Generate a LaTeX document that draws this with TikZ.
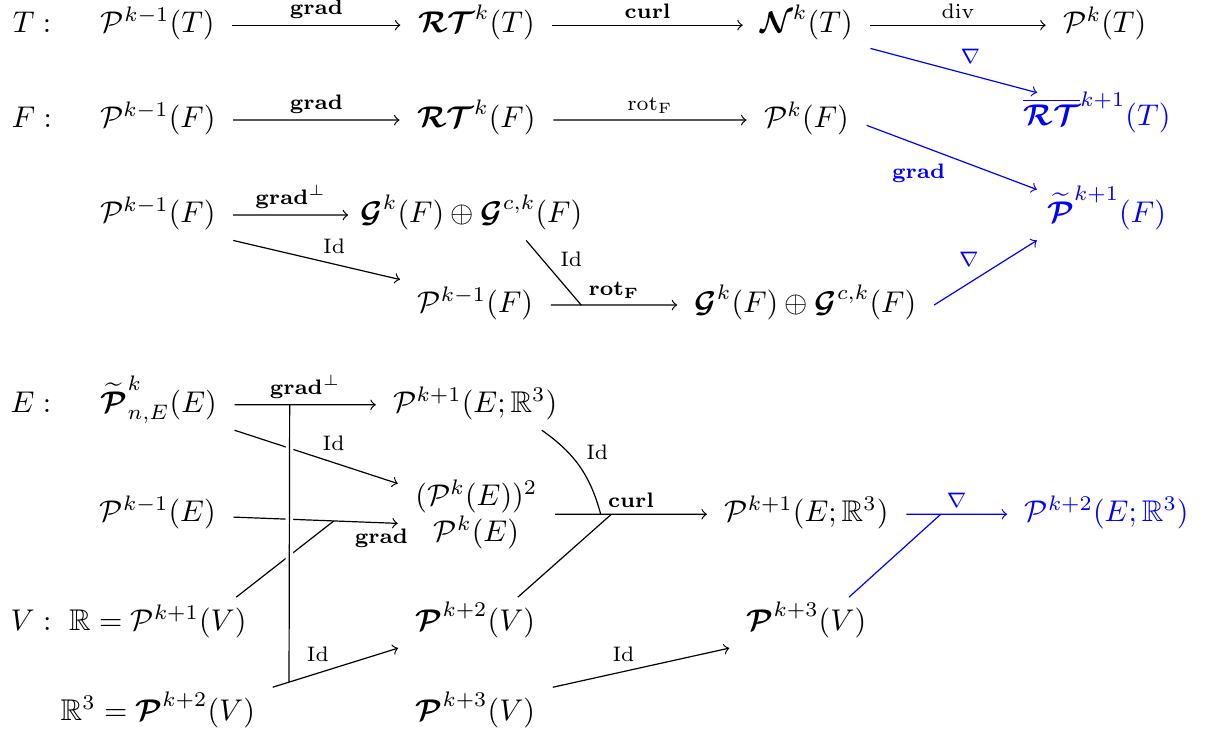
\documentclass[tikz,border=0pt]{standalone}
\usepackage{amsmath,amssymb,bm}
\usetikzlibrary{arrows}
\newcommand{\cP}{\mathcal{P}}
\newcommand{\bP}{\bm{\mathcal{P}}}
\newcommand{\bG}{\bm{\mathcal{G}}}
\newcommand{\bN}{\bm{\mathcal{N}}}
\newcommand{\RT}{\bm{\mathcal{R}\mathcal{T}}}
\tikzstyle{space}=[inner xsep=5.7pt,inner ysep=2.8pt,text height=8pt,text depth=3pt]
\tikzstyle{map} = [draw,->]
\tikzstyle{tie} = [draw]
\tikzstyle{lab} = [font=\scriptsize,inner sep=2pt]
\tikzstyle{over} = [preaction={draw=white,line width=2.5pt,shorten <=3pt,shorten >=3pt}]

\begin{document}
\begin{tikzpicture}[scale=1.136]
	\useasboundingbox (0,0) rectangle (12.57,-7.62);
	% First the names of the cells
	\foreach \pos/\name/\txt in {{(0.33,-0.26)/lT/T}, {(0.33,-1.24)/lF/F}, {(0.32,-4.18)/lE/E}, {(0.32,-6.43)/lV/V}}
	\node[space] (\name) at \pos {$\txt:$};

	% Then the spaces
	\foreach \pos/\name/\txt in {{(1.63,-0.26)/PTa/\cP^{k-1}(T)}, {(4.92,-0.26)/RTT/\RT^k(T)}, {(8.33,-0.26)/NT/\bN^k(T)}, {(11.41,-0.26)/PT/\cP^k(T)},
		{(1.63,-1.24)/PFa/\cP^{k-1}(F)}, {(4.92,-1.24)/RTF/\RT^k(F)}, {(8.33,-1.24)/PF/\cP^k(F)},
		{(1.63,-2.22)/PFb/\cP^{k-1}(F)}, {(4.87,-2.22)/GGa/\bG^k(F)\oplus\bG^{c,k}(F)},
		{(4.91,-3.15)/PFc/\cP^{k-1}(F)}, {(8.32,-3.15)/GGb/\bG^k(F)\oplus\bG^{c,k}(F)},
		{(1.64,-4.18)/PtE/\widetilde{\bP}^k_{n,E}(E)}, {(4.91,-4.18)/PEa/\cP^{k+1}(E;\mathbb{R}^3)},
		{(1.63,-5.31)/PEm/\cP^{k-1}(E)}, {(8.33,-5.31)/PEb/\cP^{k+1}(E;\mathbb{R}^3)},
		{(1.63,-6.43)/RV/\mathbb{R}=\cP^{k+1}(V)}, {(4.91,-6.43)/PVa/\bP^{k+2}(V)}, {(8.33,-6.43)/PVb/\bP^{k+3}(V)},
		{(1.63,-7.36)/RRV/\mathbb{R}^3=\bP^{k+2}(V)}, {(4.91,-7.36)/PVc/\bP^{k+3}(V)}}
	\node[space] (\name) at \pos {$\txt$};
	\node[space,blue] (RTbar) at (11.33,-1.22) {$\overline{\RT}^{k+1}(T)$};
	\node[space,blue] (PtF) at (11.43,-2.22) {$\widetilde{\bP}^{k+1}(F)$};
	\node[space,blue] (PEc) at (11.43,-5.31) {$\cP^{k+2}(E;\mathbb{R}^3)$};
	\node[align=center,inner xsep=5.7pt,inner ysep=0pt] (PkE) at (4.92,-5.31) {$(\cP^k(E))^2$\\$\cP^k(E)$};

	% Arrows along the rows
	\foreach \source/\dest/\weight in {PTa/RTT/\mathbf{grad}, RTT/NT/\mathbf{curl}, NT/PT/\mathrm{div}, PFa/RTF/\mathbf{grad}, RTF/PF/\mathrm{rot}_{\mathrm{F}}}
	\path[map] (\source) -- node[lab,above] {$\weight$} (\dest);
	\path[map] (PFb) -- node[lab,above] {$\mathbf{grad}^\perp$} ([xshift=1.5pt]GGa.west);

	% Arrows that other lines run into
	\path[map] (PFc) -- coordinate[pos=0.24] (rotin) node[lab,above] {$\mathbf{rot}_{\mathbf{F}}$} (GGb);
	\path[map] (PtE) -- coordinate[pos=0.39] (vtop) node[lab,above] {$\mathbf{grad}^\perp$} (PEa);
	\path[map] (PEm) -- coordinate[pos=0.61] (gradin) node[lab,below,pos=0.9] {$\mathbf{grad}$} ([yshift=-2.7pt]PkE.west);
	\path[map] (PkE) -- coordinate[pos=0.30] (curlin) coordinate[pos=0.37] (curlinb) node[lab,above] {$\mathbf{curl}$} (PEb);
	\path[map,blue] (PEb) -- coordinate[pos=0.34] (nablain) node[lab,above] {$\nabla$} (PEc);
	\path[map] (RRV.north east) -- coordinate[pos=0.13] (vbot) node[lab,auto] {$\mathrm{Id}$} (PVa.south west);

	% Diagonal arrows
	\path[map] (PFb.south east) -- node[lab,auto] {$\mathrm{Id}$} (PFc.north west);
	\path[map] (PtE.south east) -- node[lab,auto] {$\mathrm{Id}$} ([yshift=9pt]PkE.west);
	\path[map] (PVc.north east) -- node[lab,auto] {$\mathrm{Id}$} (PVb.south west);
	\path[map,blue] (NT.-20) -- node[lab,auto] {$\nabla$} (RTbar.157);
	\path[map,blue] (PF.-5) -- node[lab,auto,swap] {$\mathbf{grad}$} (PtF.160);
	\path[map,blue] (GGb.east) -- node[lab,auto] {$\nabla$} (PtF.200);

	% Lines running into the arrows
	\path[tie] (GGa.-25) -- node[lab,auto] {$\mathrm{Id}$} (rotin);
	\path[tie] (RV.18) -- (gradin);
	\path[tie] (PEa.-21) to[bend left=20] node[lab,auto] {$\mathrm{Id}$} (curlin);
	\path[tie] (PVa.31) -- (curlinb);
	\path[tie,blue] (PVb.31) -- (nablain);
	\path[tie,over] (vtop) -- (vbot);
\end{tikzpicture}
\end{document}
